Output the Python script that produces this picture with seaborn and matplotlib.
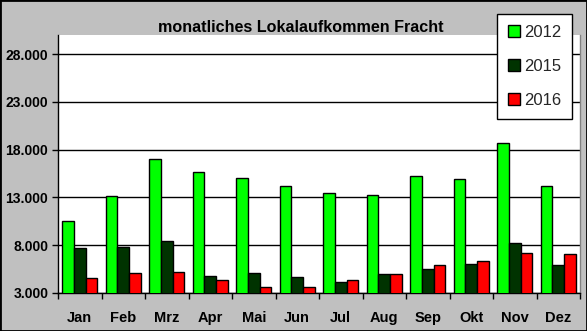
import matplotlib
matplotlib.use("Agg")
import matplotlib.pyplot as plt
from matplotlib.patches import Rectangle
from matplotlib.ticker import FuncFormatter, MultipleLocator, FixedLocator
import pandas as pd
import seaborn as sns

monate = ["Jan", "Feb", "Mrz", "Apr", "Mai", "Jun", "Jul", "Aug", "Sep", "Okt", "Nov", "Dez"]
jahre = ["2012", "2015", "2016"]
werte_2012 = [10500, 13200, 17000, 15700, 15000, 14150, 13450, 13300, 15200, 14900, 18650, 14150]
werte_2015 = [7700, 7800, 8400, 4750, 5050, 4650, 4100, 4950, 5500, 6000, 8200, 5900]
werte_2016 = [4550, 5050, 5150, 4350, 3600, 3600, 4350, 4950, 5900, 6300, 7150, 7050]
farben = ["#00FF00", "#003300", "#FF0000"]

df = pd.DataFrame({
    "Monat": monate * 3,
    "Jahr": [jahre[0]] * 12 + [jahre[1]] * 12 + [jahre[2]] * 12,
    "Wert": werte_2012 + werte_2015 + werte_2016,
})

sns.set_theme(style="white")
plt.rcParams["font.family"] = ["Liberation Sans", "DejaVu Sans"]

fig = plt.figure(figsize=(5.87, 3.31), dpi=100, facecolor="#C0C0C0")
ax = fig.add_axes([58 / 587, 38 / 331, 522 / 587, 258 / 331])
ax.set_facecolor("white")

sns.barplot(data=df, x="Monat", y="Wert", hue="Jahr", order=monate, hue_order=jahre,
            palette=farben, edgecolor="black", linewidth=1.0, width=0.8, gap=0,
            saturation=1, ax=ax, legend=False, zorder=3)

ax.set_ylim(3000, 30000)
ax.set_xlim(-0.5, 11.5)
ax.yaxis.set_major_locator(FixedLocator([3000, 8000, 13000, 18000, 23000, 28000]))
ax.yaxis.set_major_formatter(FuncFormatter(lambda v, p: f"{int(v):,}".replace(",", ".")))
ax.grid(axis="y", color="black", linewidth=1.0, zorder=0)
ax.set_axisbelow(True)

ax.set_xlabel("")
ax.set_ylabel("")
ax.xaxis.set_minor_locator(MultipleLocator(1, offset=0.5))
ax.tick_params(axis="x", which="major", length=0, pad=13, labelsize=10.5)
ax.tick_params(axis="x", which="minor", length=4, width=1, color="black", direction="out", bottom=True)
ax.tick_params(axis="y", length=4, width=1, color="black", direction="out", left=True, labelsize=10, pad=3)
for lbl in ax.get_xticklabels() + ax.get_yticklabels():
    lbl.set_fontweight("bold")
    lbl.set_color("black")

for side in ["left", "bottom"]:
    ax.spines[side].set_color("black")
    ax.spines[side].set_linewidth(1.0)
ax.spines["top"].set_visible(False)
ax.spines["right"].set_color("#808080")
ax.spines["right"].set_linewidth(1.0)

fig.text(301 / 587, 1 - 27 / 331, "monatliches Lokalaufkommen Fracht", ha="center", va="center",
         fontsize=11.6, fontweight="bold", color="black")

handles = [Rectangle((0, 0), 1, 1, facecolor=c, edgecolor="black", linewidth=1.0) for c in farben]
leg = fig.legend(handles, jahre, loc="upper left", bbox_to_anchor=(497 / 587, 1 - 14 / 331),
                 bbox_transform=fig.transFigure, fontsize=12, frameon=True, fancybox=False,
                 edgecolor="black", facecolor="white", framealpha=1, handlelength=0.75,
                 handleheight=0.75, handletextpad=0.2, labelspacing=1.15, borderpad=0.65,
                 borderaxespad=0)
leg.get_frame().set_linewidth(1.0)

fig.patches.append(Rectangle((0, 0), 1, 1, transform=fig.transFigure, fill=False,
                             edgecolor="black", linewidth=2.0))

fig.savefig("out.png", dpi=100, facecolor=fig.get_facecolor())
